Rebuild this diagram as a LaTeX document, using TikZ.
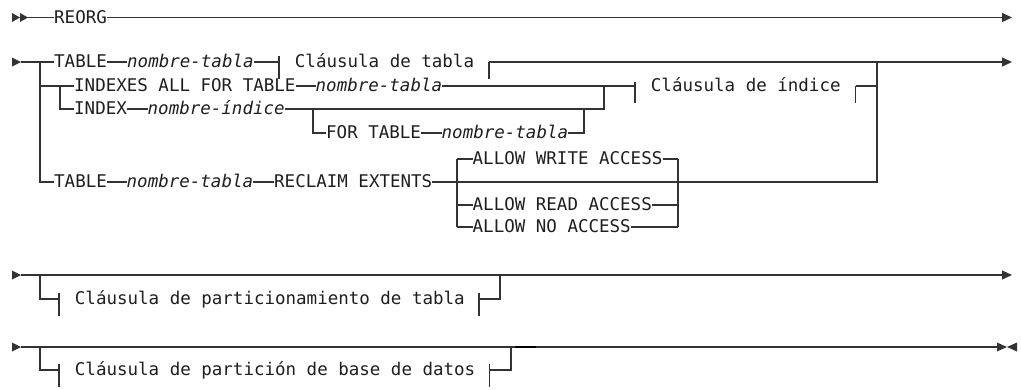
\documentclass[tikz,border=0pt]{standalone}
\usepackage{fontspec}
\newfontfamily\rmono{DejaVu Sans Mono}
\usetikzlibrary{arrows.meta}
\definecolor{lc}{HTML}{333333}
\definecolor{tc}{HTML}{1E1E1E}
\tikzset{
  ln/.style={line width=1.2pt, draw=lc},
  kw/.style={inner sep=0pt, anchor=west, text height=13pt, text depth=2pt,
    font=\rmono\fontsize{17.5}{20}\selectfont, text=tc},
  var/.style={kw, font=\rmono\itshape\fontsize{17.5}{20}\selectfont},
  endarrow/.style={-{Triangle[length=10pt,width=9pt]}},
  tri/.style={fill=lc},
}
\begin{document}
\begin{tikzpicture}[x=1pt,y=-1pt]
\useasboundingbox (0,0) rectangle (1021,389);

% ---------- Row 1 ----------
\fill[tri] (12,13) -- (20,17.5) -- (12,22) -- cycle;
\fill[tri] (20,13) -- (28,17.5) -- (20,22) -- cycle;
\coordinate (s1) at (28,17.5);
\node[kw] (reorg) at (54,17.5) {REORG};
\coordinate (e1) at (1012,17.5);
\draw[ln] (s1) -- (reorg.west);
\draw[ln,endarrow] (reorg.east) -- (e1);

% ---------- Row 2 : TABLE ----------
\fill[tri] (12,57.5) -- (21,62) -- (12,66.5) -- cycle;
\coordinate (s2) at (21,62);
\coordinate (j2) at (40,62);
\node[kw] (t1) at (54,62) {TABLE};
\node[var] (t1n) at (127,62) {nombre-tabla};
\coordinate (ctL) at (279,62);
\node[kw] (ct) at (294.75,62) {Cláusula de tabla};
\coordinate (ctR) at (489,62);
\coordinate (k2) at (877,62);
\coordinate (e2) at (1012,62);
\draw[ln] (s2) -- (t1.west);
\draw[ln] (t1.east) -- (t1n.west);
\draw[ln] (t1n.east) -- (ctL);
\draw[ln] (ctL) ++(0,-6) -- ++(0,23);
\draw[ln] (ctR) -- ++(0,17);
\draw[ln,endarrow] (ctR) -- (e2);

% ---------- Row 3 : INDEXES ----------
\coordinate (j3) at (40,86);
\coordinate (b3) at (60,86);
\coordinate (b4) at (60,109);
\node[kw] (ix) at (74,86) {INDEXES ALL FOR TABLE};
\node[var] (ixn) at (315.5,86) {nombre-tabla};
\coordinate (ciL) at (635,86);
\node[kw] (ci) at (650.75,86) {Cláusula de índice};
\coordinate (ciR) at (855.5,86);
\coordinate (k3) at (877,86);
\draw[ln] (j3) -- (b3) -- (ix.west);
\draw[ln] (ix.east) -- (ixn.west);
\draw[ln] (ixn.east) -- (ciL);
\draw[ln] (ciL) ++(0,-4) -- ++(0,21);
\draw[ln] (ciR) -- ++(0,17);
\draw[ln] (ciR) -- (k3);

% ---------- Row 4 : INDEX ----------
\node[kw] (idx) at (74,109) {INDEX};
\node[var] (idxn) at (147.5,109) {nombre-índice};
\coordinate (m4) at (604,109);
\coordinate (m3) at (604,86);
\draw[ln] (b3) -- (b4) -- (idx.west);
\draw[ln] (idx.east) -- (idxn.west);
\draw[ln] (idxn.east) -- (m4) -- (m3);

% ---------- Row 5 : FOR TABLE ----------
\coordinate (f1) at (313,109);
\coordinate (f2) at (313,133);
\coordinate (f3) at (584,133);
\coordinate (f4) at (584,109);
\node[kw] (ft) at (326,133) {FOR TABLE};
\node[var] (ftn) at (441.5,133) {nombre-tabla};
\draw[ln] (f1) -- (f2) -- (ft.west);
\draw[ln] (ft.east) -- (ftn.west);
\draw[ln] (ftn.east) -- (f3) -- (f4);

% ---------- RECLAIM row ----------
\coordinate (j6) at (40,182);
\node[kw] (t2) at (54,182) {TABLE};
\node[var] (t2n) at (126.5,182) {nombre-tabla};
\node[kw] (rec) at (274,182) {RECLAIM EXTENTS};
\coordinate (k6) at (877,182);
\draw[ln] (j2) -- (j6) -- (t2.west);
\draw[ln] (t2.east) -- (t2n.west);
\draw[ln] (t2n.east) -- (rec.west);
\draw[ln] (rec.east) -- (k6) -- (k2);

% options
\coordinate (ow1) at (457,159);
\coordinate (ow2) at (678,159);
\coordinate (or1) at (457,205);
\coordinate (or2) at (678,205);
\coordinate (on1) at (457,227);
\coordinate (on2) at (678,227);
\node[kw] (aw) at (472.5,159) {ALLOW WRITE ACCESS};
\node[kw] (ar) at (472.5,205) {ALLOW READ ACCESS};
\node[kw] (an) at (472.5,227) {ALLOW NO ACCESS};
\draw[ln] (ow1) -- (on1);
\draw[ln] (ow2) -- (on2);
\draw[ln] (ow1) -- (aw.west);
\draw[ln] (aw.east) -- (ow2);
\draw[ln] (or1) -- (ar.west);
\draw[ln] (ar.east) -- (or2);
\draw[ln] (on1) -- (an.west);
\draw[ln] (an.east) -- (on2);

% ---------- Row 4 main ----------
\fill[tri] (12,270.5) -- (21,275) -- (12,279.5) -- cycle;
\coordinate (s4) at (21,275);
\coordinate (e4) at (1012,275);
\coordinate (p1) at (40,275);
\coordinate (p2) at (40,299);
\coordinate (pL) at (59,299);
\node[kw] (cp) at (74.75,299) {Cláusula de particionamiento de tabla};
\coordinate (pR) at (479,299);
\coordinate (p3) at (500,299);
\coordinate (p4) at (500,275);
\draw[ln,endarrow] (s4) -- (e4);
\draw[ln] (p1) -- (p2) -- (pL);
\draw[ln] (pL) ++(0,-6) -- ++(0,23);
\draw[ln] (pR) ++(0,-6) -- ++(0,23);
\draw[ln] (pR) -- (p3) -- (p4);

% ---------- Row 5 main ----------
\fill[tri] (12,342.5) -- (21,347) -- (12,351.5) -- cycle;
\coordinate (s5) at (21,347);
\coordinate (e5) at (997,347);
\coordinate (q1) at (40,347);
\coordinate (q2) at (40,370);
\coordinate (qL) at (59,370);
\node[kw] (cq) at (74.75,370) {Cláusula de partición de base de datos};
\coordinate (qR) at (489.5,370);
\coordinate (q3) at (511,370);
\coordinate (q4) at (511,347);
\draw[ln] (s5) -- (e5);
\draw[ln] (q1) -- (q2) -- (qL);
\draw[ln] (qL) ++(0,-6) -- ++(0,23);
\draw[ln] (qR) ++(0,-6) -- ++(0,23);
\draw[ln] (qR) -- (q3) -- (q4);
\draw[line width=1.7pt, draw=black] (515,347) -- (536,347);
\fill[tri] (997,342.5) -- (1007,347) -- (997,351.5) -- cycle;
\fill[tri] (1017,342.5) -- (1007,347) -- (1017,351.5) -- cycle;
\end{tikzpicture}
\end{document}
